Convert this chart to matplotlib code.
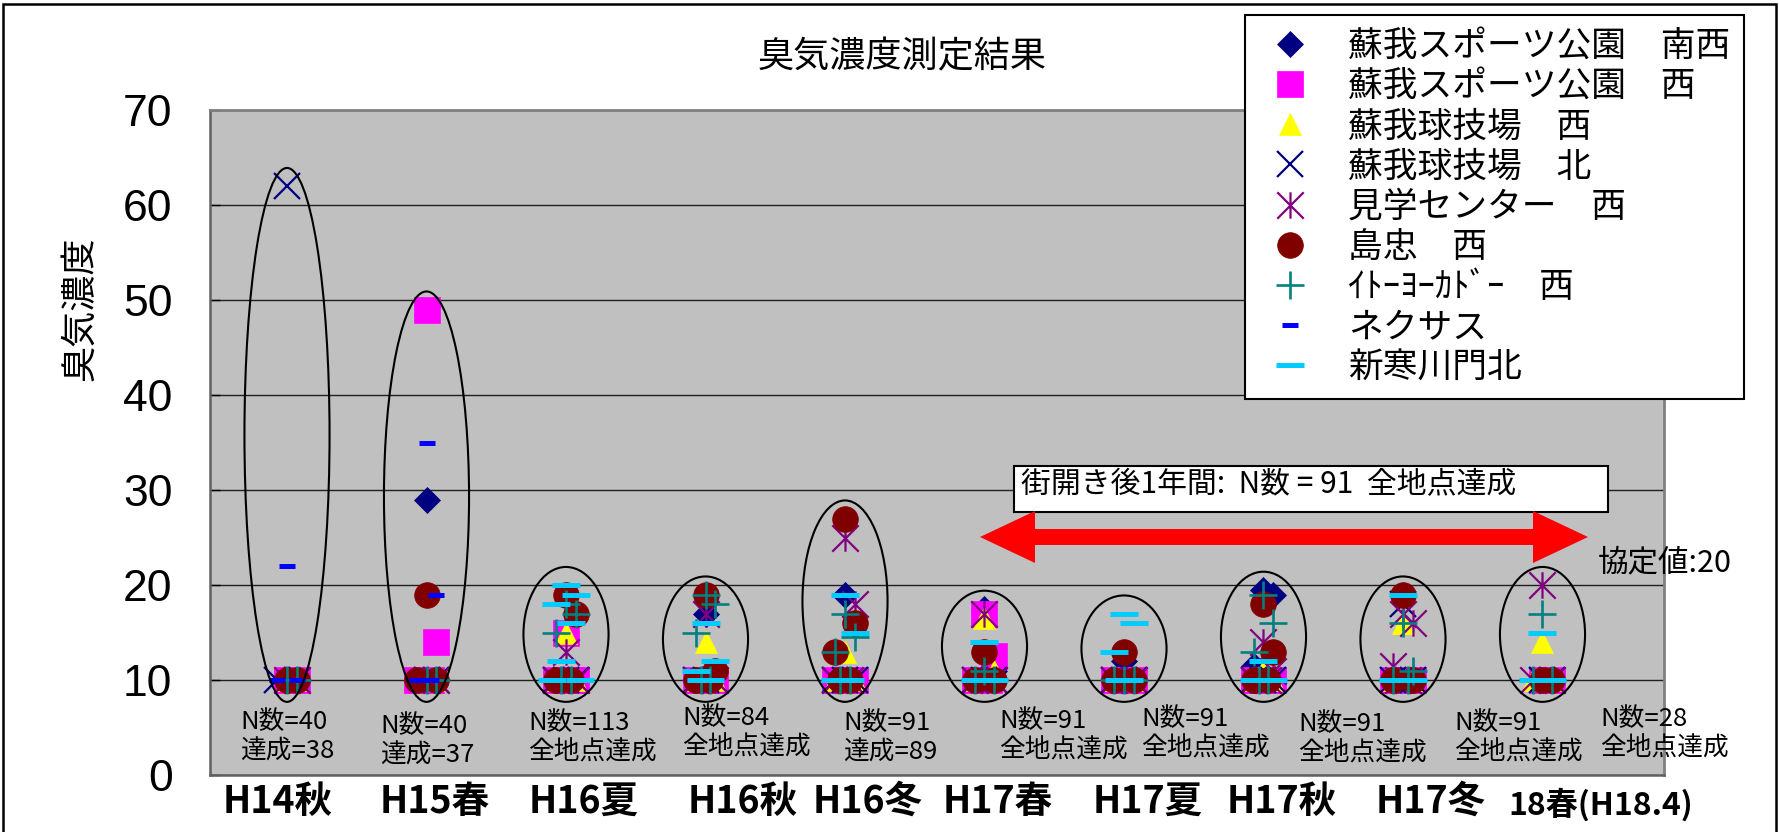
import matplotlib
matplotlib.use("Agg")
import matplotlib.pyplot as plt
from matplotlib.markers import MarkerStyle
from matplotlib.patches import Ellipse, Polygon, Rectangle
from matplotlib.path import Path

plt.rcParams["font.family"] = ["Noto Sans CJK JP", "DejaVu Sans"]

# --- data -------------------------------------------------------------------
periods = ["H14秋", "H15春", "H16夏", "H16秋", "H16冬", "H17春", "H17夏", "H17秋", "H17冬", "18春(H18.4)"]

site_names = [
    "蘇我スポーツ公園　南西",
    "蘇我スポーツ公園　西",
    "蘇我球技場　西",
    "蘇我球技場　北",
    "見学センター　西",
    "島忠　西",
    "ｲﾄｰﾖｰｶﾄﾞｰ　西",
    "ネクサス",
    "新寒川門北",
]

# odour concentration readings per survey period (<10 plotted at 10)
soga_park_sw = [[10, 10], [29, 10, 10], [10, 10, 10], [17, 10, 10], [19, 10, 10],
                [17.5, 11, 10, 10], [12, 10, 10], [19.5, 19, 11.5, 10, 10], [10, 10, 10], [10, 10]]
soga_park_w = [[10, 10], [49, 14, 10, 10], [15, 10, 10, 10], [10, 10, 10], [10, 10, 10],
               [17, 12.5, 10, 10], [10, 10, 10], [10, 10, 10], [10, 10, 10], [10, 10]]
soga_stadium_w = [[10, 10], [10, 10], [15, 10, 10], [14, 10, 10], [13, 10, 10],
                  [16.5, 11, 10, 10], [10, 10, 10], [11, 10, 10], [16, 10, 10], [14, 10, 10]]
soga_stadium_n = [[62, 10, 10], [10, 10], [10, 10, 10], [10, 10, 10], [10, 10, 10],
                  [10, 10, 10], [10, 10, 10], [10, 10, 10], [18, 10, 10], [10, 10]]
visitor_center_w = [[10, 10], [10, 10], [13, 10, 10], [17, 10, 10], [25, 18, 10, 10],
                    [17, 10, 10], [10, 10, 10], [14, 11, 10, 10], [17, 16, 11.5, 10, 10], [20, 10, 10]]
shimachu_w = [[10, 10], [19, 10, 10], [19, 17, 10, 10], [19, 11, 10, 10], [27, 16, 13, 10, 10],
              [13, 10, 10], [13, 10, 10], [18, 13, 10, 10], [19, 10, 10], [10, 10]]
itoyokado_w = [[10, 10], [10, 10], [18, 17, 15, 10, 10], [19, 18, 15, 10, 10], [17, 14.5, 13, 10, 10],
               [11, 10, 10], [10, 10, 10], [19, 16, 13, 10, 10], [16, 11, 10, 10], [17, 10, 10]]
nexus = [[22, 10, 10], [35, 19, 10, 10], [10, 10], [10, 10], [10, 10],
         [10, 10], [10, 10], [10, 10], [10, 10], [10, 10]]
shinsamukawa_n = [[], [], [20, 19, 18, 16, 12, 10, 10], [16, 12, 11, 10, 10], [19, 15, 10, 10],
                  [14, 10, 10], [17, 16, 13, 10, 10], [12, 10, 10], [19, 10, 10], [15, 10, 10]]

notes = ["N数=40\n達成=38", "N数=40\n達成=37", "N数=113\n全地点達成", "N数=84\n全地点達成",
         "N数=91\n達成=89", "N数=91\n全地点達成", "N数=91\n全地点達成", "N数=91\n全地点達成",
         "N数=91\n全地点達成", "N数=28\n全地点達成"]

# --- layout (figure pixels) --------------------------------------------------
W, H = 1779, 832
note_xy = [(240, 722), (380, 726), (528, 723), (682, 718), (843, 723),
           (999, 721), (1141, 719), (1298, 724), (1454, 723), (1600, 719)]
label_x = [278, 435, 584, 743, 868, 998, 1148, 1282, 1431, 1601]
SPREAD = [0.0, 0.07, -0.07, 0.035, -0.035, 0.1, -0.1, 0.05]


def fx(x):
    return x / W


def fy(y):
    return 1 - y / H


asterisk = Path([(0, -1), (0, 1), (-1, -1), (1, 1), (-1, 1), (1, -1)],
                [Path.MOVETO, Path.LINETO, Path.MOVETO, Path.LINETO, Path.MOVETO, Path.LINETO])

styles = [
    dict(marker="D", ms=13.5, mfc="#000080", mec="#000080", mew=0.5),
    dict(marker="s", ms=18.5, mfc="#FF00FF", mec="#FF00FF", mew=0.5),
    dict(marker="^", ms=16.5, mfc="#FFFF00", mec="#FFFF00", mew=0.5),
    dict(marker="x", ms=19, mec="#000080", mew=1.6),
    dict(marker=MarkerStyle(asterisk), ms=19, mec="#800080", mfc="none", mew=1.6),
    dict(marker="o", ms=18.5, mfc="#800000", mec="#800000", mew=0.5),
    dict(marker="+", ms=19.5, mec="#008080", mew=1.9),
    dict(marker="_", ms=11, mec="#0000FF", mew=3.6),
    dict(marker="_", ms=20, mec="#00CCFF", mew=3.6),
]
series = [soga_park_sw, soga_park_w, soga_stadium_w, soga_stadium_n, visitor_center_w,
          shimachu_w, itoyokado_w, nexus, shinsamukawa_n]

fig = plt.figure(figsize=(W / 100, H / 100), dpi=100)
ax = fig.add_axes([fx(210), fy(775), (1664 - 210) / W, (775 - 110) / H])
ax.set_facecolor("#C0C0C0")
ax.set_xlim(0.448, 10.871)
ax.set_ylim(0, 70)
ax.set_yticks(range(0, 71, 10))
ax.set_xticks([])
ax.yaxis.grid(True, color="#202020", lw=1.0)
ax.set_axisbelow(True)
for side in ["top", "right"]:
    ax.spines[side].set_color("#808080")
    ax.spines[side].set_linewidth(2)
for side in ["left", "bottom"]:
    ax.spines[side].set_color("#606060")
    ax.spines[side].set_linewidth(1.8)
ax.tick_params(axis="y", direction="in", length=7, width=1, pad=27)
for lbl in ax.get_yticklabels():
    lbl.set_fontfamily(["Liberation Sans Narrow", "Liberation Sans", "DejaVu Sans"])
    lbl.set_fontsize(32)

handles = []
for values, st in zip(series, styles):
    xs, ys = [], []
    for i, vals in enumerate(values):
        for j, v in enumerate(vals):
            xs.append(i + 1 + SPREAD[j % len(SPREAD)])
            ys.append(v)
    h, = ax.plot(xs, ys, linestyle="none", zorder=3, **st)
    handles.append(h)

# circle each survey period
for i in range(len(periods)):
    vals = [v for s in series for v in s[i]]
    top, bottom = max(vals) + 1.9, 7.7
    ax.add_patch(Ellipse((i + 1, (top + bottom) / 2), 0.61, top - bottom,
                         fill=False, ec="black", lw=1.5, zorder=4))

# titles and axis text
fig.text(fx(902), fy(57), "臭気濃度測定結果", ha="center", va="center", fontsize=26)
fig.text(fx(80), fy(309), "臭気濃度", rotation=90, ha="center", va="center", fontsize=26)
for k, (name, x) in enumerate(zip(periods, label_x)):
    last = k == len(periods) - 1
    fig.text(fx(x), fy(805 if last else 801), name, ha="center", va="center",
             fontsize=23 if last else 27, fontweight="bold")

for text, (x, y) in zip(notes, note_xy):
    for r, line in enumerate(text.split("\n")):
        fig.text(fx(x), fy(y + 30 * r), line, ha="left", va="center", fontsize=18.5, zorder=6)

# one-year-after-opening annotation
fig.add_artist(Rectangle((fx(1014), fy(512)), (1608 - 1014) / W, (512 - 466) / H,
                         transform=fig.transFigure, fc="white", ec="black", lw=1.5, zorder=5))
fig.text(fx(1021), fy(485), "街開き後1年間:  N数 = 91  全地点達成", ha="left", va="center",
         fontsize=21.5, zorder=6)

L, R, c = 980, 1588, 537
hl, hw, sw = 55, 26, 8
arrow_px = [(L, c), (L + hl, c - hw), (L + hl, c - sw), (R - hl, c - sw), (R - hl, c - hw),
            (R, c), (R - hl, c + hw), (R - hl, c + sw), (L + hl, c + sw), (L + hl, c + hw)]
fig.add_artist(Polygon([(fx(x), fy(y)) for x, y in arrow_px], closed=True,
                       transform=fig.transFigure, fc="#FF0000", ec="none", zorder=5))

fig.text(fx(1598), fy(563), "協定値:20", ha="left", va="center", fontsize=22, zorder=6)

leg = fig.legend(handles, site_names, loc="upper left", bbox_to_anchor=(fx(1245), fy(15)),
                 bbox_transform=fig.transFigure, borderaxespad=0, frameon=True, fancybox=False,
                 edgecolor="black", framealpha=1, numpoints=1, fontsize=25, handlelength=1.79,
                 handletextpad=0.78, labelspacing=0.15, borderpad=0.4)
leg.get_frame().set_linewidth(1.5)
leg.set_zorder(7)

# chart frame
fig.add_artist(Rectangle((fx(3), -0.05), (1776 - 3) / W, 1.05 - 4 / H, transform=fig.transFigure,
                         fill=False, ec="black", lw=1.8, zorder=8))

fig.savefig("out.png", dpi=100)
